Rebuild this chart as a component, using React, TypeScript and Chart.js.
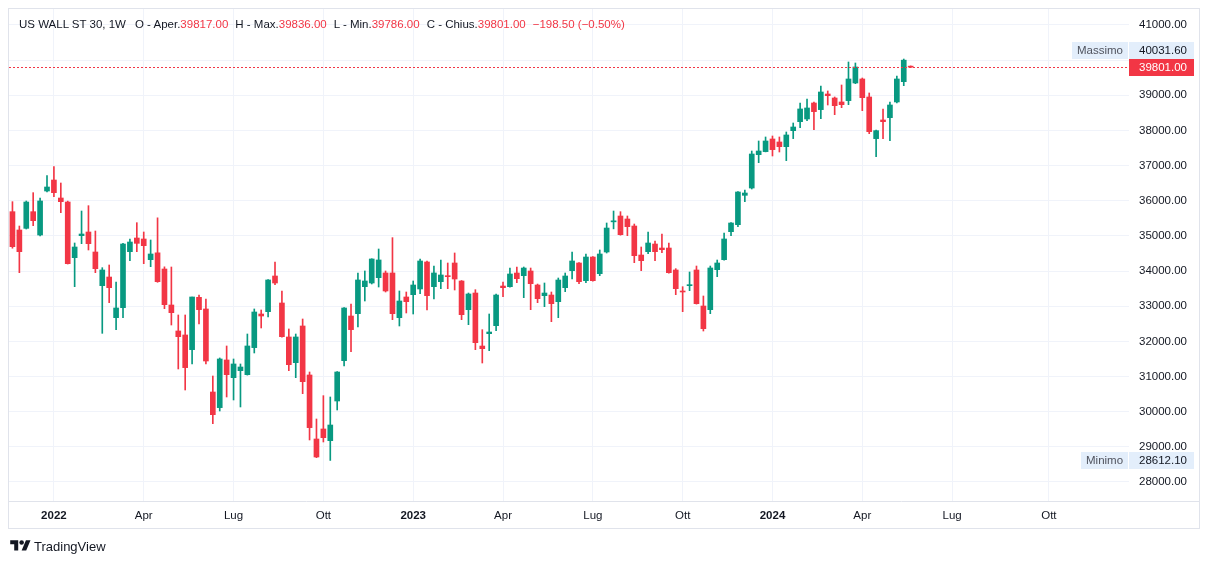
import React, { useEffect, useRef } from "react";
import { Chart, registerables } from "chart.js";

Chart.register(...registerables);

// Weekly candles, week of 22 Nov 2021 (index 0) to week of 20 May 2024 (index 130)
const opens = [
  35689, 35168, 35215, 35689, 35025, 36277, 36590, 36078, 35964, 34380,
  35006, 35111, 34542, 33584, 33830, 32674, 32958, 34551, 34940, 34912,
  34324, 34518, 34058, 33034, 32295, 32181, 31764, 33252, 32921, 30559,
  30114, 31470, 30967, 31166, 31052, 31821, 32778, 32845, 33859, 33091,
  32124, 31394, 32437, 31043, 29222, 29507, 29175, 30303, 31451, 32721,
  32788, 33556, 33660, 33812, 33945, 33945, 32674, 33262, 33328, 33490,
  34258, 33556, 33698, 33859, 34229, 33717, 32901, 33375, 31867, 32218,
  32446, 33574, 33555, 33944, 33868, 34001, 33603, 33299, 33318, 33129,
  33527, 34011, 34229, 33726, 34399, 33925, 34542, 35400, 35566, 35481,
  35281, 34456, 34551, 34769, 34655, 34655, 34030, 33423, 33584, 34030,
  33005, 32901, 34039, 34324, 35120, 35319, 36154, 36362, 37311, 37397,
  37757, 37672, 37539, 37994, 38250, 38326, 38781, 38592, 39037, 38923,
  38810, 38848, 39350, 39464, 38952, 37767, 38298, 38364, 38810, 39388,
  39817,
];
const highs = [
  35974, 35281, 35993, 36230, 36078, 36713, 36969, 36505, 35990, 34798,
  35708, 35860, 35139, 34096, 34172, 33688, 34790, 34912, 35376, 35111,
  34883, 35514, 34120, 34115, 32750, 32750, 33262, 33319, 33205, 31014,
  31527, 31868, 31498, 31356, 32209, 32921, 32892, 33760, 34258, 33433,
  32352, 32209, 32636, 31128, 29791, 30455, 30417, 31140, 32960, 33063,
  33945, 34002, 34350, 34627, 34002, 34950, 33433, 33404, 33717, 34343,
  34286, 34144, 34315, 34229, 34514, 33730, 33375, 33470, 32332, 32778,
  33347, 33688, 34086, 34115, 34115, 34086, 33630, 33660, 33404, 33802,
  33944, 34542, 34240, 34485, 34410, 34599, 35367, 35708, 35689, 35566,
  35338, 34684, 35111, 34855, 35054, 34798, 34068, 33555, 33973, 34143,
  33290, 34143, 34314, 35082, 35380, 36260, 36306, 37415, 37700, 37814,
  37842, 37814, 37956, 38212, 38781, 38895, 38810, 39265, 39123, 38952,
  39293, 39948, 39919, 39492, 39066, 38010, 38610, 38810, 39549, 40031.6,
  39836,
];
const lows = [
  34650, 33954, 35196, 35291, 34997, 36249, 36116, 35661, 34200, 33555,
  34779, 34599, 33954, 32228, 33100, 32332, 32674, 34295, 34551, 34210,
  34124, 33680, 32930, 32465, 31214, 30616, 31356, 32494, 31356, 29658,
  30019, 30417, 30332, 30133, 31040, 31669, 32380, 32693, 33613, 32120,
  31166, 30967, 30512, 29194, 28691, 29137, 28612.1, 30047, 31299, 31707,
  32408, 33148, 33632, 33546, 33404, 32617, 32437, 32807, 32778, 33357,
  32892, 33205, 33499, 33499, 33461, 32617, 32474, 31763, 31384, 31735,
  32304, 33271, 33540, 33669, 33242, 32901, 33100, 32986, 32560, 32673,
  33413, 33774, 33641, 33669, 33715, 33868, 34513, 35200, 35020, 35006,
  34238, 34011, 34494, 34295, 34523, 33940, 33328, 32844, 33442, 33060,
  32294, 32787, 33840, 34310, 35006, 35262, 35974, 36334, 37083, 37390,
  37273, 37387, 37141, 37767, 38079, 38279, 38023, 38335, 38724, 38449,
  38648, 38734, 39331, 38563, 37909, 37254, 37767, 37710, 38781, 39274,
  39786,
];
const closes = [
  34693, 34551, 35964, 35433, 35993, 36391, 36230, 35974, 34210, 34684,
  35054, 34779, 34068, 34030, 33527, 32949, 34769, 34826, 34788, 34722,
  34485, 33698, 33043, 32816, 32133, 31252, 33262, 32902, 31441, 29914,
  31498, 31052, 31356, 31270, 31868, 32835, 32721, 33746, 33660, 32133,
  31337, 32124, 30853, 29545, 28710, 29260, 29620, 31128, 32949, 32333,
  33746, 33717, 34343, 34315, 33433, 32788, 33148, 33129, 33603, 34286,
  33300, 33945, 33888, 33840, 33774, 32759, 33347, 31962, 31792, 32266,
  33318, 33527, 33916, 33783, 34086, 33641, 33214, 33375, 33072, 33745,
  33859, 34286, 33698, 34399, 33726, 34485, 35224, 35428, 35035, 35262,
  34437, 34295, 34798, 34551, 34608, 33954, 33499, 33404, 33612, 33072,
  32361, 34087, 34229, 34912, 35367, 36249, 36220, 37330, 37415, 37700,
  37454, 37539, 37871, 38098, 38611, 38639, 38535, 39094, 38990, 38705,
  38734, 39464, 39805, 38933, 37966, 37994, 38250, 38724, 39464, 39999.5,
  39801,
];

const xTickIndex = [6, 19, 32, 45, 58, 71, 84, 97, 110, 123, 136, 150];
const xTickLabels = ["2022", "Apr", "Lug", "Ott", "2023", "Apr", "Lug", "Ott", "2024", "Apr", "Lug", "Ott"];
const yTickValues = [28000, 29000, 30000, 31000, 32000, 33000, 34000, 35000, 36000, 37000, 38000, 39000, 40000, 41000];
const rangeHigh = 40031.6;
const rangeLow = 28612.1;

const GREEN = "#089981";
const RED = "#F23645";
const GRID = "#F0F3FA";
const FRAME = "#E0E3EB";
const TEXT = "#131722";
const FONT = "'Liberation Sans', Arial, sans-serif";
const FS = 11.5;

const overlay = {
  id: "tvOverlay",
  afterDraw(chart: any) {
    const c = chart.ctx;
    const area = chart.chartArea;
    const ys = chart.scales.y;
    const W = chart.width;
    c.save();
    // frame
    c.strokeStyle = FRAME;
    c.lineWidth = 1;
    c.strokeRect(8.5, 8.5, W - 18, 520);
    c.beginPath();
    c.moveTo(9, Math.round(area.bottom) + 0.5);
    c.lineTo(W - 10, Math.round(area.bottom) + 0.5);
    c.stroke();

    // dotted last price line
    const last = closes[closes.length - 1];
    const ly = Math.round(ys.getPixelForValue(last)) + 0.5;
    c.strokeStyle = RED;
    c.setLineDash([2, 2]);
    c.beginPath();
    c.moveTo(area.left, ly);
    c.lineTo(area.right, ly);
    c.stroke();
    c.setLineDash([]);

    const bh = 17;
    const bx = area.right;
    const bw = 65;
    c.font = `${FS}px ${FONT}`;
    c.textBaseline = "middle";

    const badge = (cy: number, label: string | null, value: string, bg: string, fg: string) => {
      const top = Math.round(cy - bh / 2);
      c.fillStyle = bg;
      c.fillRect(bx, top, bw, bh);
      c.fillStyle = fg;
      c.textAlign = "left";
      c.fillText(value, bx + 10, top + bh / 2 + 0.5);
      if (label) {
        const tw = c.measureText(label).width;
        const lw = Math.round(tw + 10);
        c.fillStyle = bg;
        c.fillRect(bx - 1 - lw, top, lw, bh);
        c.fillStyle = "#50535E";
        c.fillText(label, bx - 1 - lw + 5, top + bh / 2 + 0.5);
      }
    };

    let hy = ys.getPixelForValue(rangeHigh);
    if (hy > ly - bh) hy = ly - bh;
    badge(hy, "Massimo", rangeHigh.toFixed(2), "#E3EEFB", TEXT);
    badge(ys.getPixelForValue(rangeLow), "Minimo", rangeLow.toFixed(2), "#E3EEFB", TEXT);
    badge(ly, null, last.toFixed(2), RED, "#FFFFFF");
    c.restore();
  },
};

export default function App() {
  const ref = useRef<HTMLCanvasElement>(null);
  useEffect(() => {
    const canvas = ref.current;
    if (!canvas) return;
    const idx = opens.map((_, i) => i);
    const colors = idx.map((i) => (closes[i] >= opens[i] ? GREEN : RED));
    const chart = new Chart(canvas, {
      type: "bar",
      data: {
        datasets: [
          {
            label: "body",
            data: idx.map((i) => ({ x: i, y: [opens[i], closes[i]] })) as any,
            backgroundColor: colors,
            barThickness: 5,
            minBarLength: 1,
            grouped: false,
            borderWidth: 0,
          } as any,
          {
            label: "wick",
            data: idx.map((i) => ({ x: i, y: [lows[i], highs[i]] })) as any,
            backgroundColor: colors,
            barThickness: 1,
            grouped: false,
            borderWidth: 0,
          } as any,
        ],
      },
      options: {
        animation: false,
        responsive: false,
        maintainAspectRatio: false,
        layout: { padding: { left: 9, top: 9, right: 10, bottom: 36 } },
        plugins: { legend: { display: false }, tooltip: { enabled: false } },
        scales: {
          x: {
            type: "linear",
            min: -0.5,
            max: 161.6,
            offset: false,
            grid: { color: GRID, drawTicks: false, offset: false },
            border: { display: false },
            afterBuildTicks: (s: any) => {
              s.ticks = xTickIndex.map((v) => ({ value: v }));
            },
            afterFit: (s: any) => {
              s.height = 27;
              s.paddingLeft = 0;
              s.paddingRight = 0;
            },
            ticks: {
              autoSkip: false,
              maxRotation: 0,
              padding: 8,
              color: TEXT,
              font: (ctx: any) => ({
                family: FONT,
                size: FS,
                weight: /^\d{4}$/.test(xTickLabels[xTickIndex.indexOf(ctx.tick?.value)] || "") ? "bold" : "normal",
              }),
              callback: (v: any) => {
                const k = xTickIndex.indexOf(Number(v));
                return k >= 0 ? xTickLabels[k] : "";
              },
            },
          },
          y: {
            type: "linear",
            position: "right",
            min: 27458,
            max: 41455,
            grid: { color: GRID, drawTicks: false },
            border: { display: false },
            afterBuildTicks: (s: any) => {
              s.ticks = yTickValues.map((v) => ({ value: v }));
            },
            afterFit: (s: any) => {
              s.width = 70;
              s.paddingTop = 0;
              s.paddingBottom = 0;
            },
            ticks: {
              padding: 10,
              color: TEXT,
              font: { family: FONT, size: FS },
              callback: (v: any) => Number(v).toFixed(2),
            },
          },
        },
      } as any,
      plugins: [overlay],
    });
    return () => chart.destroy();
  }, []);

  const red = { color: RED };
  const gap = { marginLeft: 7 };
  return (
    <div style={{ position: "fixed", left: 0, top: 0, width: 1209, height: 564, background: "#fff" }}>
      <canvas ref={ref} width={1209} height={564} style={{ position: "absolute", left: 0, top: 0 }} />
      <div
        style={{
          position: "absolute",
          left: 19,
          top: 16,
          fontFamily: FONT,
          fontSize: FS,
          lineHeight: "16px",
          color: TEXT,
          whiteSpace: "pre",
        }}
      >
        <span>US WALL ST 30, 1W</span>
        <span style={{ marginLeft: 9 }}>O - Aper.</span>
        <span style={red}>39817.00</span>
        <span style={gap}>H - Max.</span>
        <span style={red}>39836.00</span>
        <span style={gap}>L - Min.</span>
        <span style={red}>39786.00</span>
        <span style={gap}>C - Chius.</span>
        <span style={red}>39801.00</span>
        <span style={{ ...red, marginLeft: 7 }}>−198.50 (−0.50%)</span>
      </div>
      <div style={{ position: "absolute", left: 10, top: 538, display: "flex", alignItems: "center" }}>
        <svg width="21" height="16" viewBox="0 0 36 28">
          <path d="M14 22H7V11H0V4h14v18zM28 22h-8l7.5-18h8L28 22z" fill={TEXT} />
          <circle cx="20" cy="8" r="4" fill={TEXT} />
        </svg>
        <span style={{ marginLeft: 3, fontFamily: FONT, fontSize: 13, color: TEXT }}>TradingView</span>
      </div>
    </div>
  );
}
